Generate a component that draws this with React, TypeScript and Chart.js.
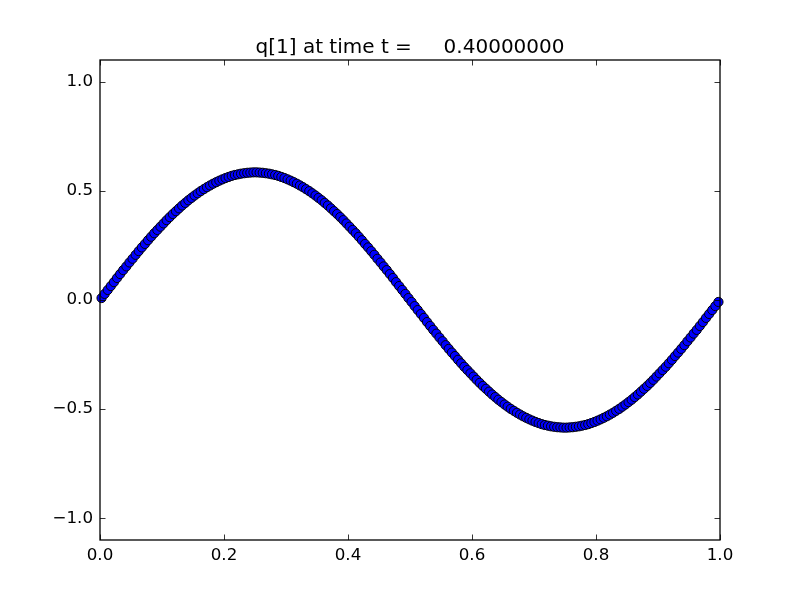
import React, { useEffect, useRef } from "react";
import { Chart, registerables } from "chart.js";

Chart.register(...registerables);

const titleText = "q[1] at time t =     0.40000000";

const xTicks = [0.0, 0.2, 0.4, 0.6, 0.8, 1.0];
const yTicks = [-1.0, -0.5, 0.0, 0.5, 1.0];

const xs = [
  0.0025, 0.0075, 0.0125, 0.0175, 0.0225, 0.0275, 0.0325, 0.0375, 0.0425, 0.0475,
  0.0525, 0.0575, 0.0625, 0.0675, 0.0725, 0.0775, 0.0825, 0.0875, 0.0925, 0.0975,
  0.1025, 0.1075, 0.1125, 0.1175, 0.1225, 0.1275, 0.1325, 0.1375, 0.1425, 0.1475,
  0.1525, 0.1575, 0.1625, 0.1675, 0.1725, 0.1775, 0.1825, 0.1875, 0.1925, 0.1975,
  0.2025, 0.2075, 0.2125, 0.2175, 0.2225, 0.2275, 0.2325, 0.2375, 0.2425, 0.2475,
  0.2525, 0.2575, 0.2625, 0.2675, 0.2725, 0.2775, 0.2825, 0.2875, 0.2925, 0.2975,
  0.3025, 0.3075, 0.3125, 0.3175, 0.3225, 0.3275, 0.3325, 0.3375, 0.3425, 0.3475,
  0.3525, 0.3575, 0.3625, 0.3675, 0.3725, 0.3775, 0.3825, 0.3875, 0.3925, 0.3975,
  0.4025, 0.4075, 0.4125, 0.4175, 0.4225, 0.4275, 0.4325, 0.4375, 0.4425, 0.4475,
  0.4525, 0.4575, 0.4625, 0.4675, 0.4725, 0.4775, 0.4825, 0.4875, 0.4925, 0.4975,
  0.5025, 0.5075, 0.5125, 0.5175, 0.5225, 0.5275, 0.5325, 0.5375, 0.5425, 0.5475,
  0.5525, 0.5575, 0.5625, 0.5675, 0.5725, 0.5775, 0.5825, 0.5875, 0.5925, 0.5975,
  0.6025, 0.6075, 0.6125, 0.6175, 0.6225, 0.6275, 0.6325, 0.6375, 0.6425, 0.6475,
  0.6525, 0.6575, 0.6625, 0.6675, 0.6725, 0.6775, 0.6825, 0.6875, 0.6925, 0.6975,
  0.7025, 0.7075, 0.7125, 0.7175, 0.7225, 0.7275, 0.7325, 0.7375, 0.7425, 0.7475,
  0.7525, 0.7575, 0.7625, 0.7675, 0.7725, 0.7775, 0.7825, 0.7875, 0.7925, 0.7975,
  0.8025, 0.8075, 0.8125, 0.8175, 0.8225, 0.8275, 0.8325, 0.8375, 0.8425, 0.8475,
  0.8525, 0.8575, 0.8625, 0.8675, 0.8725, 0.8775, 0.8825, 0.8875, 0.8925, 0.8975,
  0.9025, 0.9075, 0.9125, 0.9175, 0.9225, 0.9275, 0.9325, 0.9375, 0.9425, 0.9475,
  0.9525, 0.9575, 0.9625, 0.9675, 0.9725, 0.9775, 0.9825, 0.9875, 0.9925, 0.9975,
];

const q1 = [
  0.009, 0.028, 0.046, 0.064, 0.082, 0.101, 0.119, 0.137, 0.154, 0.172,
  0.189, 0.207, 0.224, 0.241, 0.257, 0.274, 0.290, 0.306, 0.321, 0.336,
  0.351, 0.366, 0.380, 0.394, 0.407, 0.420, 0.433, 0.445, 0.457, 0.468,
  0.479, 0.489, 0.499, 0.508, 0.517, 0.525, 0.533, 0.540, 0.547, 0.553,
  0.559, 0.564, 0.569, 0.573, 0.576, 0.579, 0.581, 0.583, 0.584, 0.585,
  0.585, 0.584, 0.583, 0.581, 0.579, 0.576, 0.573, 0.569, 0.564, 0.559,
  0.553, 0.547, 0.540, 0.533, 0.525, 0.517, 0.508, 0.499, 0.489, 0.479,
  0.468, 0.457, 0.445, 0.433, 0.420, 0.407, 0.394, 0.380, 0.366, 0.351,
  0.336, 0.321, 0.306, 0.290, 0.274, 0.257, 0.241, 0.224, 0.207, 0.189,
  0.172, 0.154, 0.137, 0.119, 0.101, 0.082, 0.064, 0.046, 0.028, 0.009,
  -0.009, -0.028, -0.046, -0.064, -0.082, -0.101, -0.119, -0.137, -0.154, -0.172,
  -0.189, -0.207, -0.224, -0.241, -0.257, -0.274, -0.290, -0.306, -0.321, -0.336,
  -0.351, -0.366, -0.380, -0.394, -0.407, -0.420, -0.433, -0.445, -0.457, -0.468,
  -0.479, -0.489, -0.499, -0.508, -0.517, -0.525, -0.533, -0.540, -0.547, -0.553,
  -0.559, -0.564, -0.569, -0.573, -0.576, -0.579, -0.581, -0.583, -0.584, -0.585,
  -0.585, -0.584, -0.583, -0.581, -0.579, -0.576, -0.573, -0.569, -0.564, -0.559,
  -0.553, -0.547, -0.540, -0.533, -0.525, -0.517, -0.508, -0.499, -0.489, -0.479,
  -0.468, -0.457, -0.445, -0.433, -0.420, -0.407, -0.394, -0.380, -0.366, -0.351,
  -0.336, -0.321, -0.306, -0.290, -0.274, -0.257, -0.241, -0.224, -0.207, -0.189,
  -0.172, -0.154, -0.137, -0.119, -0.101, -0.082, -0.064, -0.046, -0.028, -0.009,
];

const FONT = "'DejaVu Sans', sans-serif";

const fmt = (v: number) => (v < 0 ? "\u2212" : "") + Math.abs(v).toFixed(1);

const framePlugin = {
  id: "mplFrame",
  afterDraw(chart: any) {
    const { ctx, chartArea } = chart;
    const { left, right, top, bottom } = chartArea;
    const xs_ = chart.scales.x;
    const ys_ = chart.scales.y;
    ctx.save();
    ctx.strokeStyle = "#000";
    ctx.lineWidth = 0.8;
    const tl = 5.5;
    ctx.beginPath();
    xTicks.forEach((v) => {
      const px = Math.round(xs_.getPixelForValue(v)) + 0.5;
      ctx.moveTo(px, bottom);
      ctx.lineTo(px, bottom - tl);
      ctx.moveTo(px, top);
      ctx.lineTo(px, top + tl);
    });
    yTicks.forEach((v) => {
      const py = Math.round(ys_.getPixelForValue(v)) + 0.5;
      ctx.moveTo(left, py);
      ctx.lineTo(left + tl, py);
      ctx.moveTo(right, py);
      ctx.lineTo(right - tl, py);
    });
    ctx.stroke();
    ctx.lineWidth = 1.3;
    ctx.strokeRect(left, top, right - left, bottom - top);
    ctx.fillStyle = "#000";
    ctx.font = `20px ${FONT}`;
    ctx.textAlign = "center";
    ctx.textBaseline = "alphabetic";
    ctx.fillText(titleText, (left + right) / 2, 53);
    ctx.restore();
  },
};

export default function App() {
  const ref = useRef<HTMLCanvasElement | null>(null);

  useEffect(() => {
    if (!ref.current) return;
    const chart = new Chart(ref.current, {
      type: "scatter",
      data: {
        datasets: [
          {
            label: "q[1]",
            data: xs.map((x, i) => ({ x, y: q1[i] })),
            pointRadius: 4.6,
            pointHoverRadius: 4.6,
            backgroundColor: "#0000ff",
            borderColor: "#000000",
            borderWidth: 1,
            showLine: false,
            clip: false as any,
          },
        ],
      },
      options: {
        responsive: false,
        animation: false,
        devicePixelRatio: 1,
        layout: { padding: { left: 0, top: 60, right: 80, bottom: 0 } },
        plugins: {
          legend: { display: false },
          title: { display: false },
          tooltip: { enabled: false },
        },
        scales: {
          x: {
            type: "linear",
            min: 0,
            max: 1,
            afterBuildTicks: (s: any) => {
              s.ticks = xTicks.map((v) => ({ value: v }));
            },
            afterFit: (s: any) => {
              s.height = 60;
            },
            grid: { display: false, drawTicks: false },
            border: { display: false },
            ticks: {
              padding: 6,
              color: "#000",
              font: { family: FONT, size: 16.7 },
              maxRotation: 0,
              autoSkip: false,
              callback: (v: any) => fmt(Number(v)),
            },
          },
          y: {
            type: "linear",
            min: -1.1,
            max: 1.1,
            afterBuildTicks: (s: any) => {
              s.ticks = yTicks.map((v) => ({ value: v }));
            },
            afterFit: (s: any) => {
              s.width = 100;
            },
            grid: { display: false, drawTicks: false },
            border: { display: false },
            ticks: {
              padding: 7,
              color: "#000",
              font: { family: FONT, size: 16.7 },
              autoSkip: false,
              callback: (v: any) => fmt(Number(v)),
            },
          },
        },
      },
      plugins: [framePlugin],
    });
    return () => chart.destroy();
  }, []);

  return (
    <div style={{ position: "absolute", left: 0, top: 0, width: 800, height: 600, background: "#fff" }}>
      <canvas ref={ref} width={800} height={600} style={{ width: 800, height: 600 }} />
    </div>
  );
}
